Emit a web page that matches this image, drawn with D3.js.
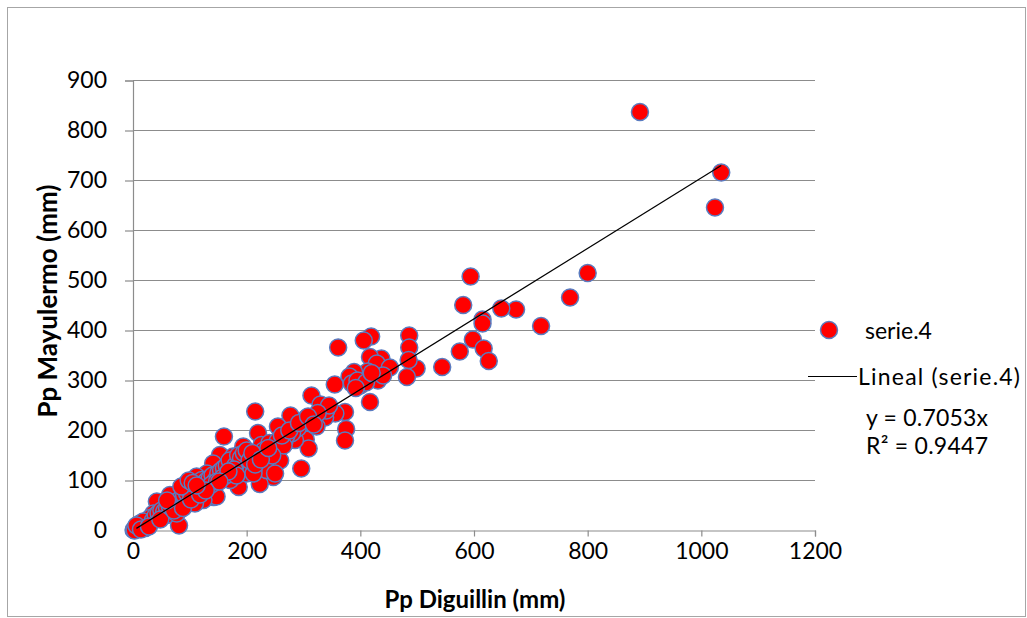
<!DOCTYPE html>
<html><head><meta charset="utf-8">
<script src="https://cdn.jsdelivr.net/npm/d3@7"></script>
<style>body{margin:0;background:#fff}svg{display:block}text{font-family:Lato,"Open Sans",sans-serif;fill:#000}</style>
</head><body><svg id="c" width="1027" height="618"></svg>
<script>
const xTicks=[0,200,400,600,800,1000,1200];
const yTicks=[0,100,200,300,400,500,600,700,800,900];
const xTitle="Pp Diguillin (mm)";
const yTitle="Pp Mayulermo (mm)";
const seriesName="serie.4";
const trendName="Lineal (serie.4)";
const slope=0.7053;
const eqText="y = 0.7053x";
const r2Text="R² = 0.9447";
const diguillin=[892,1035,1024,800,769,718,674,648,615,615,594,581,598,575,617,626,544,499,486,486,485,482,419,406,361,437,417,429,452,413,431,389,381,355,385,417,373,375,373,356,314,330,338,312,304,309,296,277,255,215,220,160,259,247,223,186,142,81,
323,285,267,200,153,141,176,226,244,235,250,212,188,200,162,130,194,226,171,147,124,112,97,94,65,42,59,36,12,1,86,77,109,132,121,197,209,212,
400,395,410,440,392,420,340,345,300,290,305,325,280,270,240,255,230,265,245,
5,8,10,15,20,25,30,18,22,35,40,45,50,55,60,70,75,80,85,90,95,100,105,110,115,120,125,130,135,140,145,150,155,160,165,170,175,180,185,190,195,200,205,210,3,6,14,28,48,65,72,88,102,118,138,148,158,168,178,60,85,98,105,
215,225,238,262,275,292,308,318,182,168,152,128,112];
const mayulermo=[837,716,646,515,466,409,442,444,422,414,508,451,382,358,364,339,327,324,390,366,341,307,388,380,366,344,347,334,326,318,300,317,308,292,294,257,237,203,180,234,270,252,226,217,182,164,124,230,208,238,195,188,140,107,93,87,67,10,
208,181,181,148,151,134,148,148,161,121,114,121,138,114,114,114,168,171,101,68,61,108,81,94,71,58,31,34,14,1,51,34,54,88,101,128,148,114,
290,300,296,310,285,315,240,250,215,205,225,235,195,190,175,180,160,170,150,
5,3,8,12,10,20,25,18,5,20,30,35,40,38,45,50,55,60,65,70,75,80,70,85,90,85,95,100,105,110,100,115,120,125,130,140,120,130,150,145,155,160,140,155,0,10,2,8,22,48,40,45,62,72,92,98,106,112,122,60,88,100,95,
132,142,165,190,200,215,228,212,110,118,98,80,90];

const svg=d3.select("#c");
svg.append("rect").attr("x",7.5).attr("y",7.5).attr("width",1018).attr("height",609).attr("fill","#fff").attr("stroke","#a6a6a6");

const x=d3.scaleLinear().domain([0,1200]).range([133,815]);
const y=d3.scaleLinear().domain([0,900]).range([530.5,80.5]);

// gridlines
svg.append("g").selectAll("line").data(yTicks.filter(d=>d>0)).join("line")
 .attr("x1",133).attr("x2",815).attr("y1",d=>y(d)).attr("y2",d=>y(d)).attr("stroke","#8c8c8c").attr("stroke-width",1.2);

const fmt=d3.format("d");
const ya=svg.append("g").attr("transform","translate(133,0)").call(d3.axisLeft(y).tickValues(yTicks).tickFormat(fmt).tickSize(8).tickPadding(18));
const xa=svg.append("g").attr("transform","translate(0,530.5)").call(d3.axisBottom(x).tickValues(xTicks).tickFormat(fmt).tickSize(6).tickPadding(6));
[ya,xa].forEach(a=>{a.selectAll("path,line").attr("stroke","#8c8c8c").attr("stroke-width",1.2);a.selectAll("text").style("font-size","23px").style("font-family","Lato").attr("fill","#000");});

// points
const pts=diguillin.map((d,i)=>({x:d,y:mayulermo[i]}));
svg.append("g").selectAll("circle").data(pts).join("circle")
 .attr("cx",d=>x(d.x)).attr("cy",d=>y(d.y)).attr("r",8.5)
 .attr("fill","#ff0000").attr("stroke","#5a7cc0").attr("stroke-width",1.5);

// trendline
const xmin=d3.min(diguillin), xmax=d3.max(diguillin);
svg.append("line").attr("x1",x(xmin+5)).attr("y1",y(slope*(xmin+5))).attr("x2",x(xmax)).attr("y2",y(slope*xmax)).attr("stroke","#000").attr("stroke-width",1.2);

// titles
svg.append("text").attr("x",475).attr("y",598).attr("text-anchor","middle").attr("dominant-baseline","central").style("font-size","24px").style("font-weight","bold").text(xTitle);
svg.append("text").attr("transform","translate(47,301) rotate(-90)").attr("text-anchor","middle").attr("dominant-baseline","central").style("font-size","26px").style("font-weight","bold").text(yTitle);

// legend
svg.append("circle").attr("cx",829).attr("cy",330).attr("r",8.5).attr("fill","#ff0000").attr("stroke","#5a7cc0").attr("stroke-width",1.5);
svg.append("text").attr("x",865).attr("y",330).attr("dominant-baseline","central").style("font-size","23px").text(seriesName);
svg.append("line").attr("x1",808).attr("x2",857).attr("y1",376.5).attr("y2",376.5).attr("stroke","#000").attr("stroke-width",1.2);
svg.append("text").attr("x",858).attr("y",376).attr("dominant-baseline","central").style("font-size","23px").attr("textLength",162).text(trendName);
svg.append("text").attr("x",866).attr("y",417).attr("dominant-baseline","central").style("font-size","23px").attr("textLength",122).text(eqText);
svg.append("text").attr("x",866).attr("y",445).attr("dominant-baseline","central").style("font-size","23px").attr("textLength",122).text(r2Text);
</script></body></html>
